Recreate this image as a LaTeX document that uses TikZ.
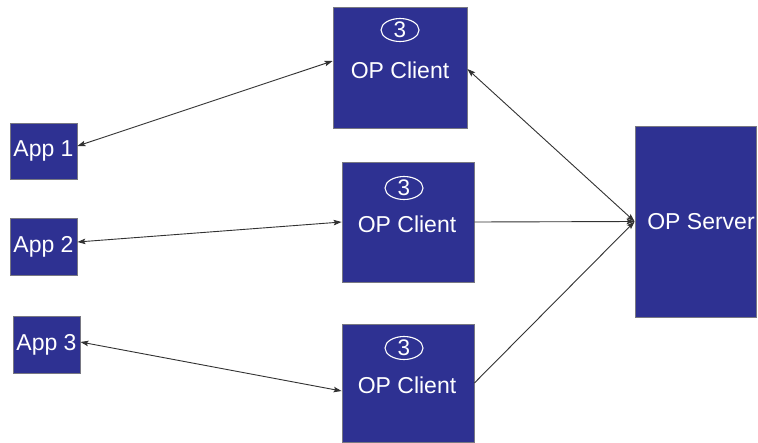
\documentclass[tikz,border=0pt]{standalone}
\usepackage{fontspec}
\setmainfont{Liberation Sans}
\usetikzlibrary{arrows.meta,shapes.geometric}
\definecolor{boxblue}{RGB}{46,49,146}
\definecolor{boxedge}{RGB}{120,120,130}
\definecolor{linkgray}{RGB}{50,50,50}
\tikzset{
  unitbox/.style={draw=boxedge, line width=0.8pt, fill=boxblue, text=white,
    inner sep=0pt, font=\fontsize{23}{27}\selectfont},
  boxlabel/.style={text=white, inner sep=0pt, font=\fontsize{23}{27}\selectfont},
  badge/.style={ellipse, draw=white, line width=1.1pt, minimum width=38pt,
    minimum height=23pt, inner sep=0pt, text=white,
    font=\fontsize{22.5}{26}\selectfont},
  link/.style={draw=linkgray, line width=0.9pt},
  both/.style={link, {Stealth[length=8pt,width=5.5pt,inset=1.5pt]}-{Stealth[length=8pt,width=5.5pt,inset=1.5pt]}},
  one/.style={link, -{Stealth[length=8pt,width=5.5pt,inset=1.5pt]}}
}
\begin{document}
\begin{tikzpicture}[x=1pt,y=1pt]
\useasboundingbox (0,0) rectangle (758,-442);
\fill[white] (0,0) rectangle (758,-442);

% applications
\node[unitbox, minimum width=67pt, minimum height=56pt] (app1) at (43.5,-151) {App 1};
\node[unitbox, minimum width=67pt, minimum height=57pt] (app2) at (43.5,-246.5) {App 2};
\node[unitbox, minimum width=67pt, minimum height=57pt] (app3) at (46.5,-344.5) {App 3};

% clients
\node[unitbox, minimum width=134pt, minimum height=121pt] (c1) at (400,-67.5) {};
\node[boxlabel] (c1t) at (400,-70) {OP Client};
\node[badge] (c1b) at (400,-30) {3};

\node[unitbox, minimum width=132pt, minimum height=120pt] (c2) at (408,-222) {};
\node[boxlabel] (c2t) at (407,-224) {OP Client};
\node[badge] (c2b) at (404,-188) {3};

\node[unitbox, minimum width=132pt, minimum height=118pt] (c3) at (408,-383) {};
\node[boxlabel] (c3t) at (407,-385) {OP Client};
\node[badge] (c3b) at (404,-348) {3};

% server
\node[unitbox, minimum width=121pt, minimum height=191pt] (srv) at (695.5,-221.5) {};
\node[boxlabel] (srvt) at (701,-222) {OP Server};

% links between applications and clients
\draw[both] ([yshift=5pt]app1.east) -- ([yshift=6.5pt]c1.west);
\draw[both] ([yshift=4.5pt]app2.east) -- (c2.west);
\draw[both] ([yshift=2.5pt]app3.east) -- ([yshift=-8pt]c3.west);

% links between clients and server
\draw[both] ([yshift=-1.5pt]c1.east) -- (srv.west);
\draw[one] (c2.east) -- (srv.west);
\draw[one] (c3.east) -- (srv.west);
\end{tikzpicture}
\end{document}
